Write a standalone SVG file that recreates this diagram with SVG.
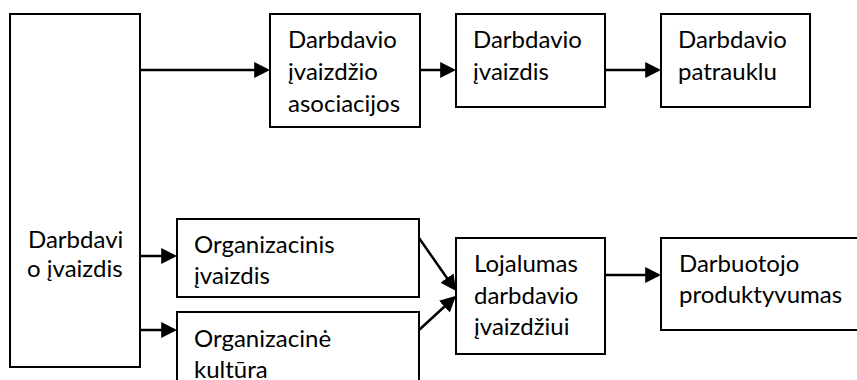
<svg xmlns="http://www.w3.org/2000/svg" width="857" height="380" viewBox="0 0 857 380">
<defs>
<style>
.box{fill:#fff;stroke:#000;stroke-width:2}
.t{font-family:Lato,"Open Sans","Liberation Sans",sans-serif;font-size:24px;fill:#000}
.c{stroke:#000;stroke-width:2.5;fill:none;marker-end:url(#ah)}
</style>
<marker id="ah" markerUnits="userSpaceOnUse" markerWidth="16" markerHeight="16" refX="12" refY="7.5" orient="auto" viewBox="0 0 15 15">
<path d="M0,0 L15,7.5 L0,15 z" fill="#000"/>
</marker>
</defs>
<rect width="857" height="380" fill="#fff"/>
<g id="connectors">
<line class="c" x1="140" y1="70" x2="267" y2="70"/>
<line class="c" x1="420" y1="70" x2="453" y2="70"/>
<line class="c" x1="605" y1="70" x2="658" y2="70"/>
<line class="c" x1="140" y1="256" x2="174" y2="256"/>
<line class="c" x1="140" y1="330" x2="174" y2="330"/>
<line class="c" x1="419" y1="238" x2="454.3" y2="288.5"/>
<line class="c" x1="419" y1="330" x2="453.8" y2="298"/>
<line class="c" x1="605" y1="275" x2="658" y2="275"/>
</g>
<g id="n-darbdavio-ivaizdis">
<rect class="box" x="10" y="14" width="130" height="353"/>
<text class="t" x="28" y="248">Darbdavi</text>
<text class="t" x="27" y="277">o įvaizdis</text>
</g>
<g id="n-asociacijos">
<rect class="box" x="270" y="14" width="150" height="113"/>
<text class="t" x="288" y="48">Darbdavio</text>
<text class="t" x="288" y="80">įvaizdžio</text>
<text class="t" x="288" y="112">asociacijos</text>
</g>
<g id="n-ivaizdis">
<rect class="box" x="456" y="14" width="149" height="93"/>
<text class="t" x="473" y="48">Darbdavio</text>
<text class="t" x="473" y="80">įvaizdis</text>
</g>
<g id="n-patrauklu">
<rect class="box" x="661" y="14" width="149" height="93"/>
<text class="t" x="678" y="48">Darbdavio</text>
<text class="t" x="678" y="80">patrauklu</text>
</g>
<g id="n-organizacinis">
<rect class="box" x="177" y="219" width="242" height="78"/>
<text class="t" x="194" y="253">Organizacinis</text>
<text class="t" x="194" y="284">įvaizdis</text>
</g>
<g id="n-kultura">
<rect class="box" x="177" y="312" width="242" height="100"/>
<text class="t" x="194" y="347">Organizacinė</text>
<text class="t" x="194" y="378">kultūra</text>
</g>
<g id="n-lojalumas">
<rect class="box" x="456" y="238" width="149" height="116"/>
<text class="t" x="474" y="272">Lojalumas</text>
<text class="t" x="474" y="304">darbdavio</text>
<text class="t" x="474" y="335">įvaizdžiui</text>
</g>
<g id="n-produktyvumas">
<rect class="box" x="661" y="238" width="250" height="92"/>
<text class="t" x="679" y="272">Darbuotojo</text>
<text class="t" x="679" y="303">produktyvumas</text>
</g>
</svg>
